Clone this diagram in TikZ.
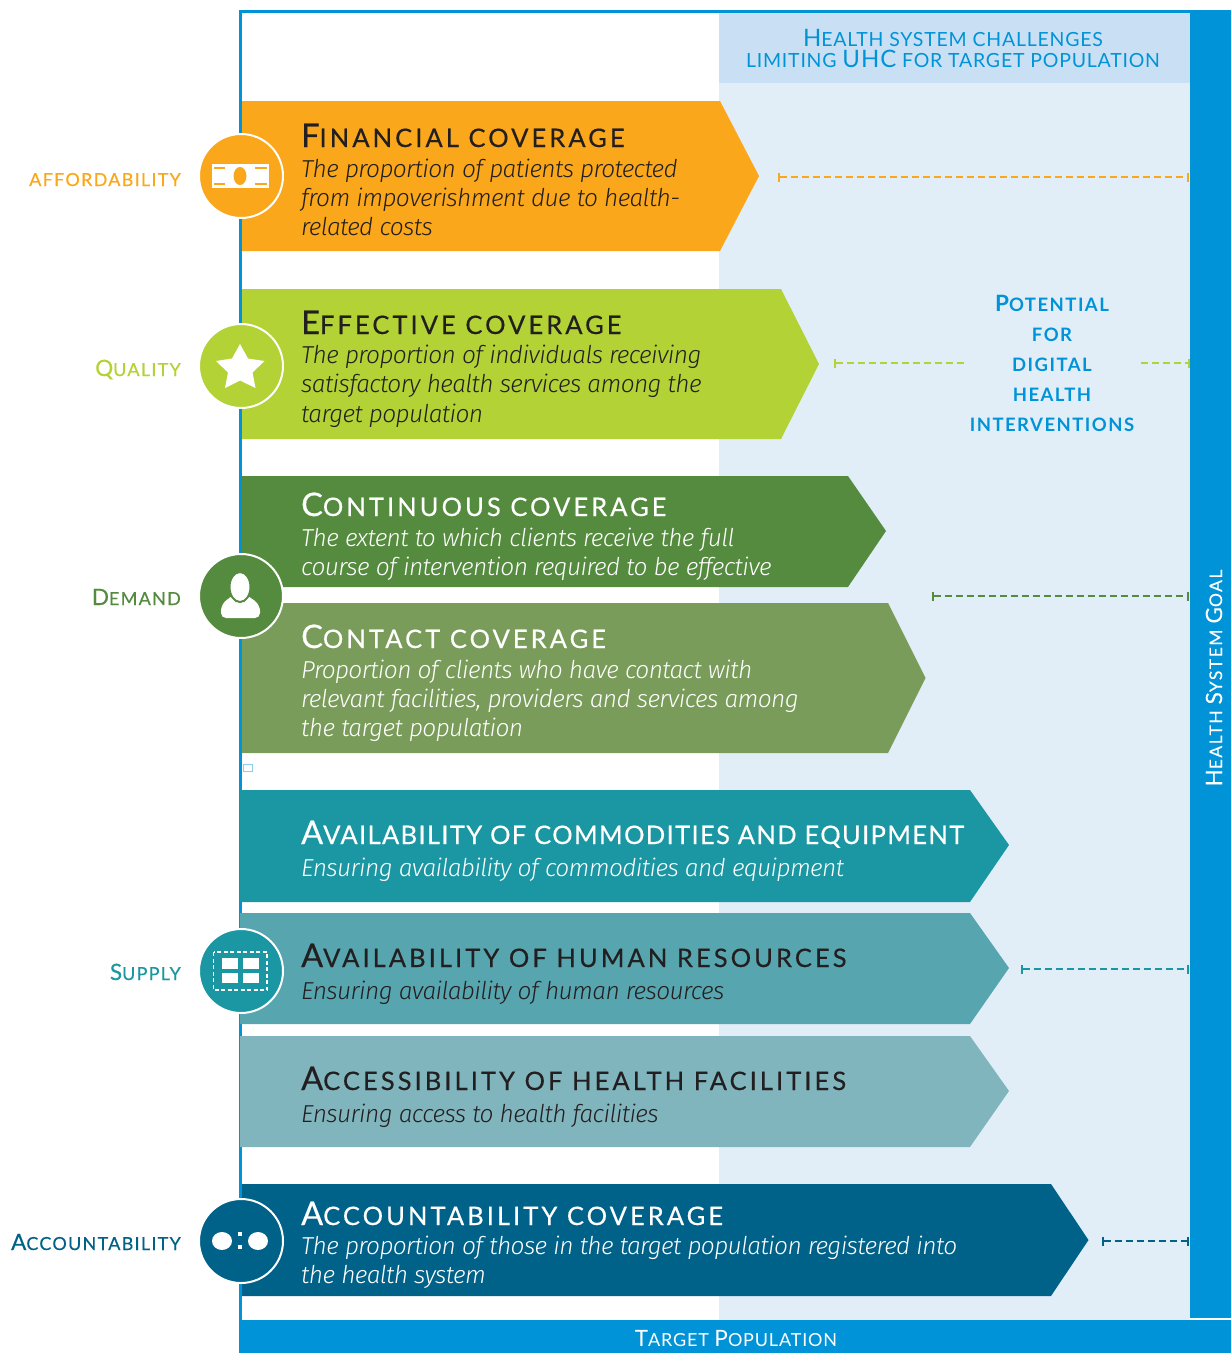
\documentclass[tikz,border=0pt]{standalone}
\usepackage{fontspec}
\usetikzlibrary{arrows.meta}
\setmainfont{Fira Sans}
\newfontfamily\descfont[LetterSpace=-2.5]{Fira Sans Light Italic}
\newfontfamily\capfont[LetterSpace=12,FakeBold=0.4]{Lato}
\newfontfamily\capnarrow[LetterSpace=5.3,FakeBold=0.4]{Lato}
\newfontfamily\capbold[LetterSpace=8]{Lato Bold}
\newfontfamily\labfont[LetterSpace=4]{Lato}
\newfontfamily\tpfont[LetterSpace=4.6]{Lato}
\newfontfamily\labbold[LetterSpace=7,FakeBold=0.4]{Lato}
\newfontfamily\goalfont[LetterSpace=8.5,FakeBold=0.2]{Lato}
\newcommand\sz[1]{\fontsize{#1}{#1}\selectfont}
\newcommand\bigA[1]{{\sz{32.5}#1}}
\newcommand\hbig[1]{{\sz{24}#1}}
\newcommand\lbig[1]{{\sz{22.5}#1}}
\definecolor{cblue}{HTML}{0093D7}
\definecolor{clight}{HTML}{E1EEF8}
\definecolor{chead}{HTML}{C9E0F4}
\definecolor{corange}{HTML}{FAA71B}
\definecolor{clime}{HTML}{B2D235}
\definecolor{cgreen}{HTML}{558B3E}
\definecolor{ccontact}{HTML}{7A9C5A}
\definecolor{cteal}{HTML}{1A97A2}
\definecolor{chr}{HTML}{57A5AF}
\definecolor{cacc}{HTML}{81B5BD}
\definecolor{cnavy}{HTML}{006189}
\definecolor{cink}{HTML}{231F20}
\tikzset{
  titletext/.style={anchor=base west,inner sep=0pt,font=\capfont\sz{25.5}},
  titlenarrow/.style={anchor=base west,inner sep=0pt,font=\capnarrow\sz{25.5}},
  desctext/.style={anchor=base west,inner sep=0pt,font=\descfont\sz{24.5}},
  sidelabel/.style={anchor=base east,inner sep=0pt,font=\labbold\sz{18}},
  icon/.style={circle,minimum size=84pt,inner sep=0pt,draw=white,line width=2pt},
  gapdash/.style={dashed,dash pattern=on 7pt off 4pt,line width=2pt},
  gap/.style={gapdash,{Bar[width=9pt,length=2pt]}-{Bar[width=9pt,length=2pt]}},
  gapl/.style={gapdash,{Bar[width=9pt,length=2pt]}-},
  gapr/.style={gapdash,-{Bar[width=9pt,length=2pt]}},
  headtext/.style={anchor=base,inner sep=0pt,text=cblue,font=\labfont\sz{19.5}},
  pottext/.style={anchor=base,inner sep=0pt,text=cblue,font=\capbold\sz{18.5}},
}
\begin{document}
\begin{tikzpicture}[x=1pt,y=-1pt]
\useasboundingbox (0,0) rectangle (1231,1353);
% backgrounds
\fill[clight] (719,83) rectangle (1190,1320);
\fill[chead] (719,12) rectangle (1190,83);
\fill[cblue] (1190,10) rectangle (1231,1318);
\fill[cblue] (239,1320) rectangle (1231,1353);
\fill[cblue] (239,10) rectangle (1190,12.5);
\fill[cblue] (239,10) rectangle (242,1353);
\draw[cblue!45,line width=1pt] (243.5,764.5) rectangle (252.5,771);
% chevrons
\fill[corange] (242,101) -- (720,101) -- (759,176) -- (720,251) -- (242,251) -- cycle;
\fill[clime] (242,289) -- (781,289) -- (819,364) -- (781,439) -- (242,439) -- cycle;
\fill[cgreen] (242,476) -- (848,476) -- (886,531) -- (848,587) -- (242,587) -- cycle;
\fill[ccontact] (242,603) -- (888,603) -- (925.5,678) -- (888,753) -- (242,753) -- cycle;
\fill[cteal] (240,790) -- (970,790) -- (1009,845) -- (970,902) -- (240,902) -- cycle;
\fill[chr] (240,913) -- (970,913) -- (1009,968) -- (970,1024) -- (240,1024) -- cycle;
\fill[cacc] (240,1036) -- (970,1036) -- (1009,1091) -- (970,1147) -- (240,1147) -- cycle;
\fill[cnavy] (242,1184) -- (1051,1184) -- (1088.5,1240) -- (1051,1296) -- (242,1296) -- cycle;
% chevron text
\node[titletext,text=cink] (t1) at (301,147) {\bigA{F}INANCIAL COVERAGE};
\node[desctext,text=cink] (d1a) at (301,177) {The proportion of patients protected};
\node[desctext,text=cink] (d1b) at (301,206) {from impoverishment due to health-};
\node[desctext,text=cink] (d1c) at (301,235) {related costs};
\node[titletext,text=cink] (t2) at (301,334) {\bigA{E}FFECTIVE COVERAGE};
\node[desctext,text=cink] (d2a) at (301,363) {The proportion of individuals receiving};
\node[desctext,text=cink] (d2b) at (301,392) {satisfactory health services among the};
\node[desctext,text=cink] (d2c) at (301,422) {target population};
\node[titletext,text=white] (t3) at (301,516) {\bigA{C}ONTINUOUS COVERAGE};
\node[desctext,text=white] (d3a) at (301,546) {The extent to which clients receive the full};
\node[desctext,text=white] (d3b) at (301,575) {course of intervention required to be effective};
\node[titletext,text=white] (t4) at (301,648) {\bigA{C}ONTACT COVERAGE};
\node[desctext,text=white] (d4a) at (301,678) {Proportion of clients who have contact with};
\node[desctext,text=white] (d4b) at (301,707) {relevant facilities, providers and services among};
\node[desctext,text=white] (d4c) at (301,736) {the target population};
\node[titlenarrow,text=white] (t5) at (301,844) {\bigA{A}VAILABILITY OF COMMODITIES AND EQUIPMENT};
\node[desctext,text=white] (d5) at (301,876) {Ensuring availability of commodities and equipment};
\node[titletext,text=cink] (t6) at (301,967) {\bigA{A}VAILABILITY OF HUMAN RESOURCES};
\node[desctext,text=cink] (d6) at (301,999) {Ensuring availability of human resources};
\node[titletext,text=cink] (t7) at (301,1090) {\bigA{A}CCESSIBILITY OF HEALTH FACILITIES};
\node[desctext,text=cink] (d7) at (301,1122) {Ensuring access to health facilities};
\node[titletext,text=white] (t8) at (301,1225) {\bigA{A}CCOUNTABILITY COVERAGE};
\node[desctext,text=white] (d8a) at (301,1254) {The proportion of those in the target population registered into};
\node[desctext,text=white] (d8b) at (301,1283) {the health system};
% icons
\node[icon,fill=corange] (c1) at (241,176) {};
\node[icon,fill=clime] (c2) at (241,366) {};
\node[icon,fill=cgreen] (c3) at (241,596) {};
\node[icon,fill=cteal] (c4) at (241,971) {};
\node[icon,fill=cnavy] (c5) at (241,1241) {};
% bill
\fill[white] (212,164) rectangle (269,188);
\fill[corange] (240,176) ellipse [x radius=6.5,y radius=9];
\foreach \a/\b/\y in {214/225/168,214/225/184,255/267/168,255/267/184}
  \draw[corange,line width=1.5pt] (\a,\y) -- (\b,\y);
% star
\fill[white] (240,344) -- (248,358.5) -- (264.5,361) -- (252.5,372.5) -- (255.5,388) -- (240,380.5) -- (225,388) -- (228,372.5) -- (216,361) -- (232,358.5) -- cycle;
% person
\fill[white,rounded corners=5pt] (221,618) -- (221,606) -- (228,598) -- (234,596) -- (246,596) -- (252,598) -- (260,606) -- (260,618) -- cycle;
\filldraw[fill=white,draw=cgreen,line width=2pt] (240,587) ellipse [x radius=10.5,y radius=15];
% grid
\draw[white,line width=1.2pt,dash pattern=on 4pt off 2.5pt] (213.5,952) rectangle (267,990);
\fill[white] (222,958) rectangle (238,969);
\fill[white] (243,958) rectangle (259,969);
\fill[white] (222,973) rectangle (238,983);
\fill[white] (243,973) rectangle (259,983);
% accountability
\fill[white] (222,1241) ellipse [x radius=10,y radius=9];
\fill[white] (258,1241) ellipse [x radius=10,y radius=9];
\fill[white] (238,1232) rectangle (242,1236);
\fill[white] (238,1245) rectangle (242,1249);
% side labels
\node[sidelabel,text=corange] (l1) at (181,186) {AFFORDABILITY};
\node[sidelabel,text=clime] (l2) at (181,376) {\lbig{Q}UALITY};
\node[sidelabel,text=cgreen] (l3) at (181,605) {\lbig{D}EMAND};
\node[sidelabel,text=cteal] (l4) at (181,980) {\lbig{S}UPPLY};
\node[sidelabel,text=cnavy] (l5) at (181,1250) {\lbig{A}CCOUNTABILITY};
% header
\node[headtext] (h1) at (953,46) {\hbig{H}EALTH SYSTEM CHALLENGES};
\node[headtext] (h2) at (953,67) {LIMITING \hbig{UHC} FOR TARGET POPULATION};
% potential
\node[pottext] (p1) at (1052,311) {\lbig{P}OTENTIAL};
\node[pottext] (p2) at (1052,341) {FOR};
\node[pottext] (p3) at (1052,371) {DIGITAL};
\node[pottext] (p4) at (1052,401) {HEALTH};
\node[pottext] (p5) at (1052,431) {INTERVENTIONS};
% bars text
\node[rotate=90,inner sep=0pt,text=white,font=\goalfont\sz{17.5}] (goal) at (1214,678) {\lbig{H}EALTH \lbig{S}YSTEM \lbig{G}OAL};
\node[inner sep=0pt,text=white,font=\tpfont\sz{18}] (tp) at (736,1338) {\lbig{T}ARGET \lbig{P}OPULATION};
% gaps
\coordinate (g1a) at (778,177); \coordinate (g1b) at (1189,177);
\coordinate (g2a) at (834,363); \coordinate (g2b) at (965,363);
\coordinate (g2c) at (1141,363); \coordinate (g2d) at (1190,363);
\coordinate (g3a) at (932,596); \coordinate (g3b) at (1189,596);
\coordinate (g4a) at (1021,969); \coordinate (g4b) at (1189,969);
\coordinate (g5a) at (1102,1241); \coordinate (g5b) at (1189,1241);
\draw[gap,corange] (g1a) -- (g1b);
\draw[gapl,clime] (g2a) -- (g2b);
\draw[gapr,clime] (g2c) -- (g2d);
\draw[gap,cgreen] (g3a) -- (g3b);
\draw[gap,cteal] (g4a) -- (g4b);
\draw[gap,cnavy] (g5a) -- (g5b);
\end{tikzpicture}
\end{document}
